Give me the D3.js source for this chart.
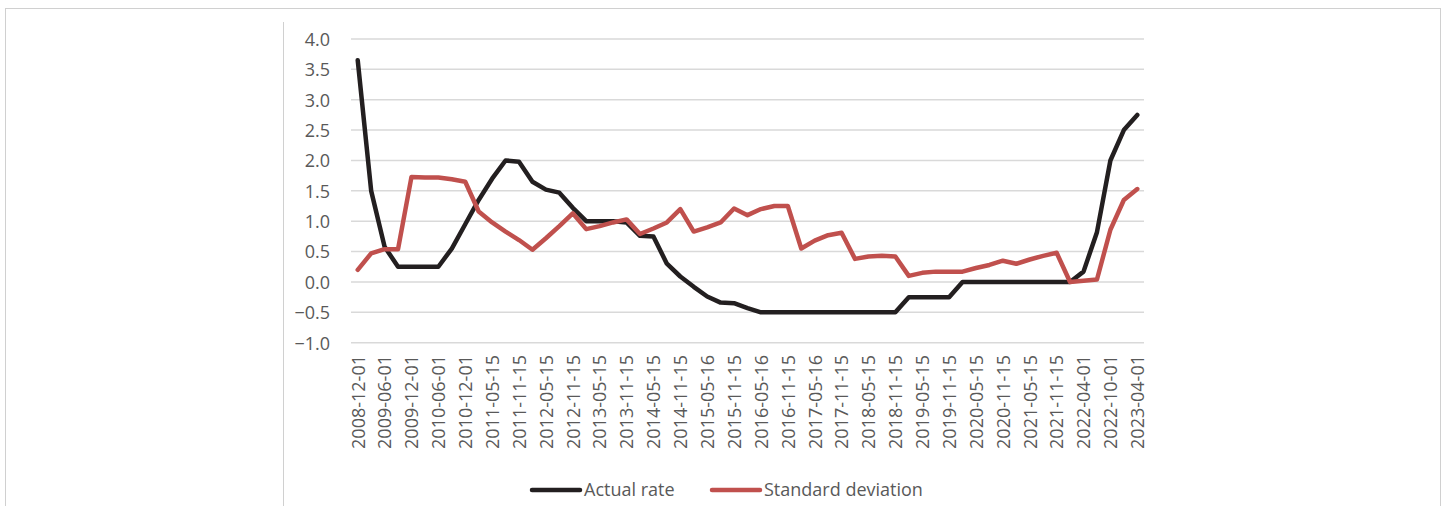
<!DOCTYPE html>
<html>
<head>
<meta charset="utf-8">
<script src="https://cdn.jsdelivr.net/npm/d3@7"></script>
<style>
  html, body { margin: 0; padding: 0; background: #fff; }
  svg { display: block; }
  text { font-family: "Open Sans", Lato, sans-serif; fill: #595959; }
</style>
</head>
<body>
<svg id="chart" width="1447" height="506"></svg>
<script>
const categories = [
  "2008-12-01","2009-03-01","2009-06-01","2009-09-01","2009-12-01","2010-03-01","2010-06-01","2010-09-01",
  "2010-12-01","2011-02-15","2011-05-15","2011-08-15","2011-11-15","2012-02-15","2012-05-15","2012-08-15",
  "2012-11-15","2013-02-15","2013-05-15","2013-08-15","2013-11-15","2014-02-15","2014-05-15","2014-08-15",
  "2014-11-15","2015-02-16","2015-05-16","2015-08-16","2015-11-15","2016-02-16","2016-05-16","2016-08-16",
  "2016-11-15","2017-02-16","2017-05-16","2017-08-16","2017-11-15","2018-02-15","2018-05-15","2018-08-15",
  "2018-11-15","2019-02-15","2019-05-15","2019-08-15","2019-11-15","2020-02-15","2020-05-15","2020-08-15",
  "2020-11-15","2021-02-15","2021-05-15","2021-08-15","2021-11-15","2022-01-01","2022-04-01","2022-07-01",
  "2022-10-01","2023-01-01","2023-04-01"
];
const tickLabels = [
  "2008-12-01","2009-06-01","2009-12-01","2010-06-01","2010-12-01","2011-05-15","2011-11-15","2012-05-15",
  "2012-11-15","2013-05-15","2013-11-15","2014-05-15","2014-11-15","2015-05-16","2015-11-15","2016-05-16",
  "2016-11-15","2017-05-16","2017-11-15","2018-05-15","2018-11-15","2019-05-15","2019-11-15","2020-05-15",
  "2020-11-15","2021-05-15","2021-11-15","2022-04-01","2022-10-01","2023-04-01"
];
const actualRate = [
  3.65, 1.5, 0.58, 0.25, 0.25, 0.25, 0.25, 0.55,
  0.95, 1.35, 1.7, 2.0, 1.98, 1.65, 1.52, 1.47,
  1.22, 1.0, 1.0, 1.0, 0.98, 0.76, 0.75, 0.3,
  0.09, -0.08, -0.24, -0.34, -0.35, -0.43, -0.5, -0.5,
  -0.5, -0.5, -0.5, -0.5, -0.5, -0.5, -0.5, -0.5,
  -0.5, -0.25, -0.25, -0.25, -0.25, 0.0, 0.0, 0.0,
  0.0, 0.0, 0.0, 0.0, 0.0, 0.0, 0.17, 0.82,
  2.0, 2.5, 2.75
];
const standardDeviation = [
  0.2, 0.47, 0.54, 0.54, 1.73, 1.72, 1.72, 1.69,
  1.65, 1.16, 0.98, 0.83, 0.69, 0.53, 0.72, 0.92,
  1.13, 0.87, 0.92, 0.98, 1.03, 0.79, 0.88, 0.98,
  1.2, 0.83, 0.9, 0.98, 1.21, 1.1, 1.2, 1.25,
  1.25, 0.55, 0.68, 0.77, 0.81, 0.38, 0.42, 0.43,
  0.42, 0.1, 0.15, 0.17, 0.17, 0.17, 0.23, 0.28,
  0.35, 0.3, 0.37, 0.43, 0.48, 0.0, 0.02, 0.04,
  0.86, 1.35, 1.53
];
const yTicks = [-1.0, -0.5, 0.0, 0.5, 1.0, 1.5, 2.0, 2.5, 3.0, 3.5, 4.0];
const seriesNames = ["Actual rate", "Standard deviation"];
const seriesColors = ["#231f20", "#c0504d"];

const svg = d3.select("#chart");

// frame
svg.append("rect").attr("x", 5.5).attr("y", 8.5).attr("width", 1435).attr("height", 510)
  .attr("fill", "none").attr("stroke", "#d0d0d0").attr("stroke-width", 1);
svg.append("line").attr("x1", 283.5).attr("x2", 283.5).attr("y1", 22).attr("y2", 506)
  .attr("stroke", "#d0d0d0").attr("stroke-width", 1);

const x = d3.scalePoint().domain(categories).range([351, 1144]).padding(0.5);
const y = d3.scaleLinear().domain([-1, 4]).range([342.7, 39]);

// gridlines
svg.append("g").selectAll("line").data(yTicks).join("line")
  .attr("x1", 351).attr("x2", 1144)
  .attr("y1", d => y(d)).attr("y2", d => y(d))
  .attr("stroke", "#d9d9d9").attr("stroke-width", 1.5);

// y axis
const yAxis = d3.axisLeft(y).tickValues(yTicks).tickFormat(d3.format(".1f")).tickSize(0).tickPadding(0);
const gy = svg.append("g").attr("transform", "translate(330,0)").call(yAxis);
gy.select(".domain").remove();
gy.selectAll("text").style("font-size", "18px").attr("fill", "#595959").attr("dy", "0.35em");

// x axis
const xAxis = d3.axisBottom(x).tickValues(tickLabels).tickSize(0).tickPadding(0);
const gx = svg.append("g").attr("transform", "translate(0,355)").call(xAxis);
gx.select(".domain").remove();
gx.selectAll("text")
  .style("font-size", "18px")
  .attr("fill", "#595959")
  .attr("text-anchor", "end")
  .attr("transform", "rotate(-90)")
  .attr("x", 0).attr("y", 0).attr("dy", "0.35em");

// lines
const line = d3.line().x((d, i) => x(categories[i])).y(d => y(d));
[actualRate, standardDeviation].forEach((s, k) => {
  svg.append("path").datum(s)
    .attr("d", line)
    .attr("fill", "none")
    .attr("stroke", seriesColors[k])
    .attr("stroke-width", 4.5)
    .attr("stroke-linejoin", "round")
    .attr("stroke-linecap", "round");
});

// legend
const legendX = [532, 712];
seriesNames.forEach((n, k) => {
  const g = svg.append("g").attr("transform", `translate(${legendX[k]},490)`);
  g.append("line").attr("x1", 0).attr("x2", 48).attr("y1", 0).attr("y2", 0)
    .attr("stroke", seriesColors[k]).attr("stroke-width", 4.5).attr("stroke-linecap", "round");
  g.append("text").attr("x", 52).attr("y", 0).attr("dy", "0.35em")
    .style("font-size", "18px").text(n);
});
</script>
</body>
</html>
